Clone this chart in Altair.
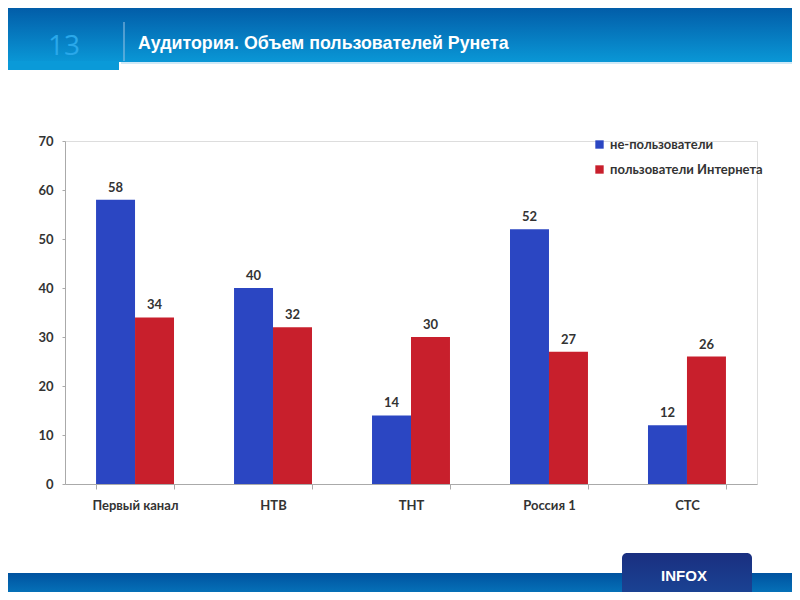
import altair as alt
import pandas as pd

channels = ["Первый канал", "НТВ", "ТНТ", "Россия 1", "СТС"]
non_users = [58, 40, 14, 52, 12]
users = [34, 32, 30, 27, 26]
series_names = ["не-пользователи", "пользователи Интернета"]
series_colors = ["#2b46c2", "#c81f2c"]
y_ticks = [0, 10, 20, 30, 40, 50, 60, 70]

rows = []
for c, a, b in zip(channels, non_users, users):
    rows.append({"channel": c, "series": series_names[0], "value": a})
    rows.append({"channel": c, "series": series_names[1], "value": b})
df = pd.DataFrame(rows)

FONT = "Lato"
W, H = 692, 343

xenc = alt.X("channel:N", sort=channels, title=None,
             scale=alt.Scale(paddingInner=0.435, paddingOuter=0.225),
             axis=alt.Axis(labelAngle=0, labelFont=FONT, labelFontSize=13, labelFontWeight="bold",
                           labelColor="#333333", labelPadding=10, domainColor="#aaaaaa",
                           tickColor="#aaaaaa", tickSize=5, tickBand="extent"))
yenc = alt.Y("value:Q", title=None,
             scale=alt.Scale(domain=[0, 70], nice=False),
             axis=alt.Axis(values=y_ticks, grid=False, labelFont=FONT, labelFontSize=13,
                           labelFontWeight="bold", labelColor="#333333", domainColor="#aaaaaa",
                           tickColor="#aaaaaa", tickSize=3, labelPadding=9))
color = alt.Color("series:N", sort=series_names,
                  scale=alt.Scale(domain=series_names, range=series_colors),
                  legend=alt.Legend(title=None, orient="none", legendX=528, legendY=-3,
                                    symbolType="square", symbolSize=70, symbolStrokeWidth=0,
                                    labelFont=FONT, labelFontSize=13, labelFontWeight="bold",
                                    labelColor="#333333", rowPadding=11, symbolOpacity=1))
xoff = alt.XOffset("series:N", sort=series_names)

base = alt.Chart(df)
bars = base.mark_bar(opacity=1).encode(x=xenc, xOffset=xoff, y=yenc, color=color)
labels = base.mark_text(dy=-12, font=FONT, fontSize=13, fontWeight="bold", color="#333333").encode(
    x=xenc, xOffset=xoff, y=yenc, text="value:Q")

one = pd.DataFrame({"k": [0]})
dec = alt.Chart(one)

header_grad = alt.LinearGradient(gradient="linear", x1=0, x2=0, y1=0, y2=1,
                                 stops=[alt.GradientStop(color="#00509e", offset=0),
                                        alt.GradientStop(color="#0a97d6", offset=1)])
header = dec.mark_rect(color=header_grad).encode(
    x=alt.value(-70), x2=alt.value(740), y=alt.value(-145), y2=alt.value(-79))
notch = dec.mark_rect(color="#0a9ad8").encode(
    x=alt.value(-70), x2=alt.value(54), y=alt.value(-80), y2=alt.value(-71))
header_line = dec.mark_rule(color="#9fd3ee", strokeWidth=1).encode(
    x=alt.value(56), x2=alt.value(740), y=alt.value(-78))
num = dec.mark_text(text="13", font="Open Sans", fontSize=28, color="#2aa8ea",
                    align="center", baseline="middle").encode(x=alt.value(-1), y=alt.value(-94))
divider = dec.mark_rule(color="#9cc4e4", strokeWidth=1).encode(
    x=alt.value(59), y=alt.value(-119), y2=alt.value(-80))
title = dec.mark_text(text="Аудитория. Объем пользователей Рунета", font="Liberation Sans",
                      fontSize=17.8, fontWeight="bold", color="#ffffff",
                      align="left", baseline="middle").encode(x=alt.value(73), y=alt.value(-97))

footer_grad = alt.LinearGradient(gradient="linear", x1=0, x2=0, y1=0, y2=1,
                                 stops=[alt.GradientStop(color="#00529f", offset=0),
                                        alt.GradientStop(color="#0a8fd0", offset=1)])
footer = dec.mark_rect(color=footer_grad).encode(
    x=alt.value(-70), x2=alt.value(740), y=alt.value(432), y2=alt.value(470))
tab_grad = alt.LinearGradient(gradient="linear", x1=0, x2=0, y1=0, y2=1,
                              stops=[alt.GradientStop(color="#1a2f80", offset=0),
                                     alt.GradientStop(color="#1a4c9c", offset=1)])
tab = dec.mark_rect(color=tab_grad, cornerRadiusTopLeft=5, cornerRadiusTopRight=5).encode(
    x=alt.value(557), x2=alt.value(687), y=alt.value(412), y2=alt.value(470))
logo = dec.mark_text(text="INFOX", font="Liberation Sans", fontSize=15, fontWeight="bold",
                     color="#ffffff", align="center", baseline="middle").encode(
    x=alt.value(619), y=alt.value(435))

chart = alt.layer(header, notch, header_line, num, divider, title, footer, tab, logo,
                  bars, labels).properties(
    width=W, height=H,
    autosize=alt.AutoSizeParams(type="none"),
    padding={"left": 57, "top": 133, "right": 35, "bottom": 108},
).configure_view(stroke=None).configure(background="#ffffff")

chart.save("out.html", embed_options={"renderer": "svg", "actions": False})
